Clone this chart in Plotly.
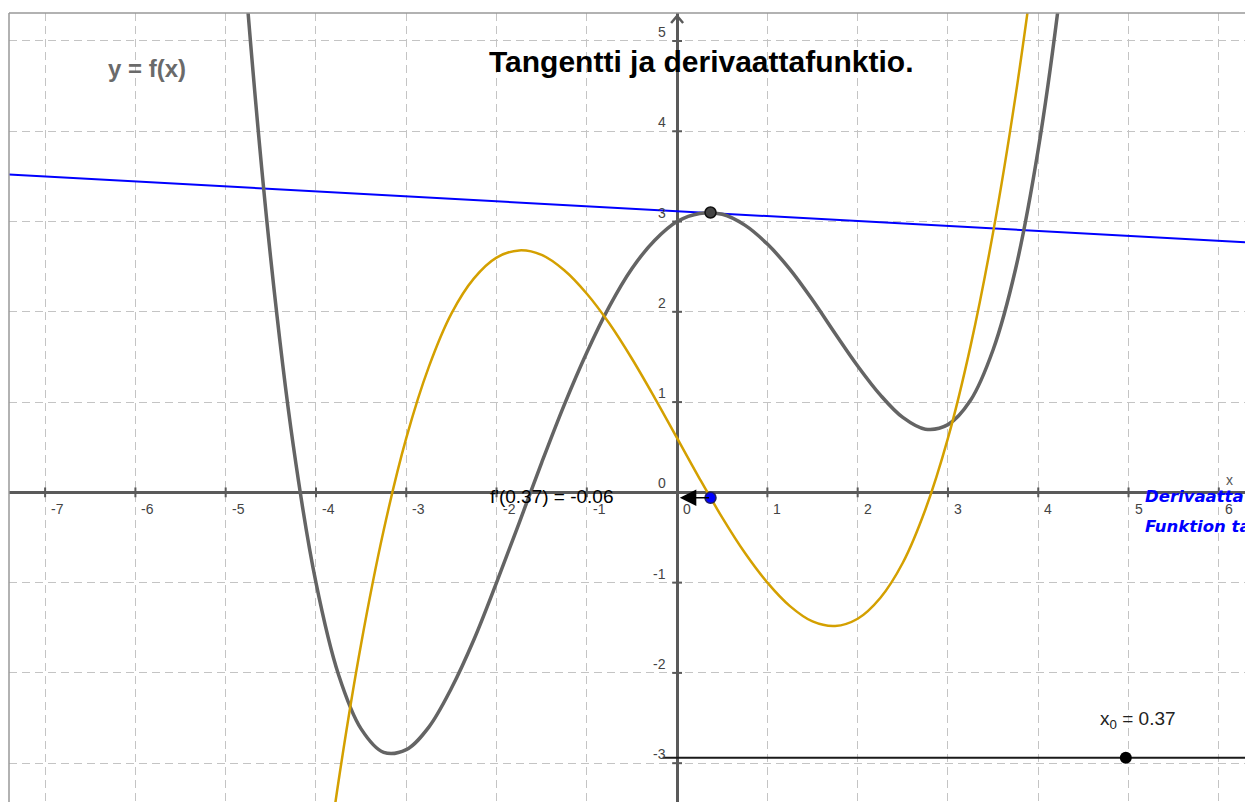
import plotly.graph_objects as go

# Graph window (GeoGebra view)
X_RANGE = [-7.40, 6.29]
Y_RANGE = [-3.43, 5.31]
X_TICKS = [-7, -6, -5, -4, -3, -2, -1, 0, 1, 2, 3, 4, 5, 6]
Y_TICKS = [-3, -2, -1, 0, 1, 2, 3, 4, 5]

# f(x)
F_X = [-5.0, -4.75, -4.5, -4.25, -4.0, -3.75, -3.5, -3.25, -3.0, -2.75, -2.5, -2.25,
       -2.0, -1.75, -1.5, -1.25, -1.0, -0.75, -0.5, -0.25, 0.0, 0.25, 0.5, 0.75,
       1.0, 1.25, 1.5, 1.75, 2.0, 2.25, 2.5, 2.75, 3.0, 3.25, 3.5, 3.75, 4.0, 4.25, 4.5]
F_Y = [8.75, 5.29, 2.58, 0.51, -1.0, -2.02, -2.62, -2.88, -2.85, -2.6, -2.17, -1.63,
       -1.0, -0.34, 0.33, 0.97, 1.55, 2.06, 2.48, 2.79, 3.0, 3.09, 3.08, 2.96,
       2.75, 2.47, 2.13, 1.76, 1.4, 1.08, 0.83, 0.7, 0.75, 1.02, 1.58, 2.48, 3.8, 5.6, 7.98]

# f'(x)
D_X = [-4.0, -3.75, -3.5, -3.25, -3.0, -2.75, -2.5, -2.25, -2.0, -1.75, -1.5, -1.25,
       -1.0, -0.75, -0.5, -0.25, 0.0, 0.25, 0.5, 0.75, 1.0, 1.25, 1.5, 1.75,
       2.0, 2.25, 2.5, 2.75, 3.0, 3.25, 3.5, 3.75, 4.0]
D_Y = [-5.0, -3.2, -1.68, -0.42, 0.6, 1.39, 1.98, 2.37, 2.6, 2.68, 2.63, 2.46,
       2.2, 1.87, 1.48, 1.05, 0.6, 0.15, -0.28, -0.67, -1.0, -1.26, -1.43, -1.48,
       -1.4, -1.17, -0.78, -0.19, 0.6, 1.62, 2.88, 4.4, 6.2]

# tangent line at x0 (end points at the window edges)
TAN_X = [-7.40, 6.29]
TAN_Y = [3.52, 2.77]

X0 = 0.37
F_X0 = 3.10
DF_X0 = -0.06

# slider x0
SLIDER_X = [-0.16, 6.29]
SLIDER_Y = [-2.94, -2.94]
SLIDER_KNOB = 4.97

FONT = "Liberation Sans, Arial, sans-serif"
DEJAVU = "DejaVu Sans, sans-serif"
GREY = "#646464"
GOLD = "#D4A000"
BLUE = "#0000FF"
AXIS = "#5a5a5a"

fig = go.Figure()

fig.add_trace(go.Scatter(x=TAN_X, y=TAN_Y, mode="lines",
                         line={"color": BLUE, "width": 2}))
fig.add_trace(go.Scatter(x=F_X, y=F_Y, mode="lines",
                         line={"color": GREY, "width": 3.5, "shape": "spline", "smoothing": 1}))
fig.add_trace(go.Scatter(x=D_X, y=D_Y, mode="lines",
                         line={"color": GOLD, "width": 2.5, "shape": "spline", "smoothing": 1}))

# axis tick marks
fig.add_trace(go.Scatter(x=[t for t in X_TICKS if t != 0], y=[0] * (len(X_TICKS) - 1),
                         mode="markers",
                         marker={"symbol": "line-ns-open", "size": 7, "color": AXIS,
                                 "line": {"color": AXIS, "width": 2}}))
fig.add_trace(go.Scatter(x=[0] * (len(Y_TICKS) - 1), y=[t for t in Y_TICKS if t != 0],
                         mode="markers",
                         marker={"symbol": "line-ew-open", "size": 7, "color": AXIS,
                                 "line": {"color": AXIS, "width": 2}}))

# slider
fig.add_trace(go.Scatter(x=SLIDER_X, y=SLIDER_Y, mode="lines",
                         line={"color": "#1a1a1a", "width": 2}))
fig.add_trace(go.Scatter(x=[SLIDER_KNOB], y=[SLIDER_Y[0]], mode="markers",
                         marker={"color": "black", "size": 12}))

# points
fig.add_trace(go.Scatter(x=[X0], y=[F_X0], mode="markers",
                         marker={"color": "#444444", "size": 11,
                                 "line": {"color": "#111111", "width": 1.5}}))
fig.add_trace(go.Scatter(x=[X0], y=[DF_X0], mode="markers",
                         marker={"color": BLUE, "size": 11,
                                 "line": {"color": "#202060", "width": 1.5}}))

annotations = []
for t in X_TICKS:
    annotations.append(dict(x=t, y=0, text=str(t), showarrow=False,
                            xanchor="left", yanchor="middle", xshift=4, yshift=-17,
                            font={"family": FONT, "size": 14, "color": "#444444"}))
for t in Y_TICKS:
    annotations.append(dict(x=0, y=t, text=str(t), showarrow=False,
                            xanchor="right", yanchor="middle", xshift=-9, yshift=9,
                            font={"family": FONT, "size": 14, "color": "#444444"}))

annotations += [
    dict(x=0.27, y=4.77, text="<b>Tangentti ja derivaattafunktio.</b>", showarrow=False,
         font={"family": FONT, "size": 30, "color": "black"}),
    dict(x=-5.87, y=4.70, text="<b>y = f(x)</b>", showarrow=False,
         font={"family": FONT, "size": 24, "color": "#6a6a6a"}),
    dict(x=-2.10, y=-0.05, text="f'(0.37) = -0.06", showarrow=False, xanchor="left",
         font={"family": FONT, "size": 19, "color": "black"}),
    dict(x=0.03, y=DF_X0, ax=X0, ay=DF_X0, axref="x", ayref="y", text="",
         showarrow=True, arrowhead=2, arrowsize=2.2, arrowwidth=1.5, arrowcolor="black"),
    dict(x=5.16, y=-0.05, text="<b><i>Derivaatta f'(x)</i></b>", showarrow=False, xanchor="left",
         font={"family": DEJAVU, "size": 16.5, "color": BLUE}),
    dict(x=5.16, y=-0.38, text="<b><i>Funktion tangentti</i></b>", showarrow=False, xanchor="left",
         font={"family": DEJAVU, "size": 16.5, "color": BLUE}),
    dict(x=6.12, y=0.14, text="x", showarrow=False,
         font={"family": FONT, "size": 14, "color": "#555555"}),
    dict(x=5.10, y=-2.52, text="x<sub>0</sub> = 0.37", showarrow=False,
         font={"family": FONT, "size": 19, "color": "#222222"}),
]

axis_style = dict(
    showgrid=True, gridcolor="#c4c4c4", gridwidth=1, griddash="8px,5px",
    zeroline=True, zerolinecolor=AXIS, zerolinewidth=2.5,
    showticklabels=False, ticks="", showline=False, fixedrange=True,
    tick0=0, dtick=1,
)

fig.update_layout(
    width=1245, height=802,
    margin={"l": 9, "r": 0, "t": 13, "b": 0, "pad": 0},
    paper_bgcolor="white", plot_bgcolor="white",
    showlegend=False,
    xaxis=dict(range=X_RANGE, **axis_style),
    yaxis=dict(range=Y_RANGE, **axis_style),
    annotations=annotations,
    shapes=[
        # window frame (top and left edges)
        dict(type="line", xref="paper", yref="paper", x0=0, x1=1, y0=1, y1=1,
             line={"color": "#999999", "width": 1.5}),
        dict(type="line", xref="paper", yref="paper", x0=0, x1=0, y0=0, y1=1,
             line={"color": "#999999", "width": 1.5}),
        # arrow tip of the y axis
        dict(type="path", xref="x", yref="y", xsizemode="pixel", ysizemode="pixel",
             xanchor=0, yanchor=Y_RANGE[1], path="M -6 -10 L 0 -3 L 6 -10",
             line={"color": AXIS, "width": 2.5}),
    ],
)

# drop the default page margin so the figure fills the window
fig.write_html("out.html", config={"displayModeBar": False},
               post_script="document.body.style.margin='0';document.body.style.overflow='hidden';")
